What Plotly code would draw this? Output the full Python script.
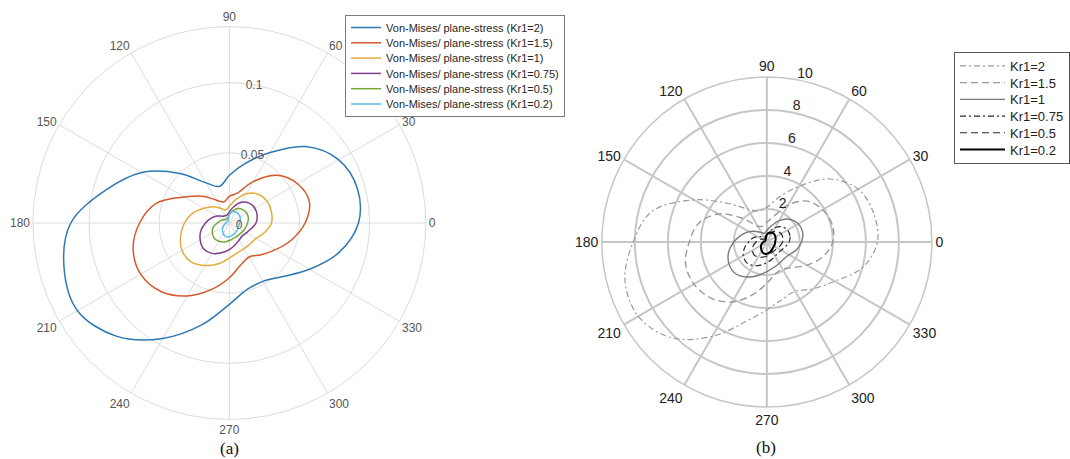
import plotly.graph_objects as go

# ---------------- data ----------------
theta = [0, 15, 30, 45, 60, 75, 90, 105, 120, 135, 150, 165,
         180, 195, 210, 225, 240, 255, 270, 285, 300, 315, 330, 345]
angle_ticks = [0, 30, 60, 90, 120, 150, 180, 210, 240, 270, 300, 330]

# (a) Von-Mises / plane-stress
names_a = ["Von-Mises/ plane-stress (Kr1=2)", "Von-Mises/ plane-stress (Kr1=1.5)",
           "Von-Mises/ plane-stress (Kr1=1)", "Von-Mises/ plane-stress (Kr1=0.75)",
           "Von-Mises/ plane-stress (Kr1=0.5)", "Von-Mises/ plane-stress (Kr1=0.2)"]
a_kr2 = [0.092, 0.0945, 0.090, 0.077, 0.058, 0.044, 0.034, 0.027, 0.033, 0.050, 0.072, 0.091,
         0.113, 0.122, 0.125, 0.114, 0.095, 0.075, 0.058, 0.049, 0.048, 0.054, 0.066, 0.081]
a_kr15 = [0.054, 0.059, 0.056, 0.048, 0.034, 0.022, 0.019, 0.0155, 0.019, 0.027, 0.037, 0.054,
          0.064, 0.071, 0.073, 0.069, 0.060, 0.049, 0.039, 0.031, 0.028, 0.032, 0.038, 0.046]
a_kr1 = [0.030, 0.031, 0.031, 0.029, 0.024, 0.017, 0.012, 0.0095, 0.012, 0.0165, 0.021, 0.027,
         0.032, 0.036, 0.039, 0.039, 0.035, 0.030, 0.025, 0.022, 0.021, 0.021, 0.022, 0.026]
a_kr075 = [0.019, 0.0205, 0.021, 0.020, 0.017, 0.012, 0.008, 0.006, 0.006, 0.0068, 0.010, 0.0135,
           0.017, 0.021, 0.024, 0.026, 0.025, 0.022, 0.019, 0.016, 0.014, 0.013, 0.014, 0.016]
a_kr05 = [0.013, 0.014, 0.0142, 0.0135, 0.012, 0.009, 0.006, 0.004, 0.0035, 0.0038, 0.0045, 0.0065,
          0.0085, 0.012, 0.014, 0.0153, 0.015, 0.014, 0.0125, 0.0113, 0.011, 0.0108, 0.0113, 0.012]
a_kr02 = [0.0072, 0.008, 0.0088, 0.0091, 0.009, 0.0084, 0.006, 0.003, 0.002, 0.0018, 0.0018, 0.002,
          0.0025, 0.0035, 0.0052, 0.0069, 0.0088, 0.010, 0.0098, 0.009, 0.0082, 0.0075, 0.0071, 0.007]
series_a = [a_kr2, a_kr15, a_kr1, a_kr075, a_kr05, a_kr02]
colors_a = ["#2e78b4", "#d45a2a", "#e3ad3a", "#7e3f8e", "#76a83a", "#5bbde8"]

# (b)
names_b = ["Kr1=2", "Kr1=1.5", "Kr1=1", "Kr1=0.75", "Kr1=0.5", "Kr1=0.2"]
b_kr2 = [6.7, 6.7, 6.4, 5.4, 3.9, 2.8, 2.1, 1.95, 2.3, 3.3, 5.1, 7.2,
         8.1, 8.9, 9.0, 8.2, 6.6, 5.0, 4.1, 3.6, 3.45, 4.0, 4.75, 6.0]
b_kr15 = [4.0, 4.1, 3.9, 3.5, 2.6, 1.6, 1.2, 1.0, 1.1, 2.0, 3.4, 4.3,
          4.7, 5.1, 5.1, 4.8, 4.2, 3.3, 2.5, 2.0, 1.9, 2.2, 2.8, 3.5]
b_kr1 = [2.1, 2.25, 2.2, 1.95, 1.5, 1.0, 0.7, 0.55, 0.65, 0.9, 1.25, 1.6,
         2.0, 2.4, 2.65, 2.7, 2.45, 2.1, 1.8, 1.6, 1.5, 1.45, 1.55, 1.85]
b_kr075 = [1.35, 1.45, 1.45, 1.3, 1.0, 0.65, 0.45, 0.35, 0.35, 0.45, 0.65, 0.9,
           1.1, 1.4, 1.65, 1.75, 1.65, 1.45, 1.25, 1.1, 1.0, 0.95, 1.0, 1.15]
b_kr05 = [0.95, 1.0, 1.0, 0.9, 0.7, 0.45, 0.3, 0.2, 0.2, 0.25, 0.35, 0.5,
          0.65, 0.85, 1.0, 1.1, 1.05, 0.95, 0.85, 0.75, 0.7, 0.7, 0.75, 0.85]
b_kr02 = [0.5, 0.55, 0.6, 0.65, 0.65, 0.6, 0.45, 0.25, 0.15, 0.12, 0.12, 0.15,
          0.2, 0.3, 0.4, 0.5, 0.62, 0.72, 0.72, 0.65, 0.58, 0.52, 0.5, 0.5]
series_b = [b_kr2, b_kr15, b_kr1, b_kr075, b_kr05, b_kr02]
colors_b = ["#9a9a9a", "#9a9a9a", "#7a7a7a", "#2a2a2a", "#2a2a2a", "#000000"]
dashes_b = ["6px,3px,2px,3px", "7px,4px", "solid", "6px,3px,2px,3px", "7px,4px", "solid"]
widths_b = [1.2, 1.4, 1.4, 1.2, 1.2, 2.0]
rticks_b = [2, 4, 6, 8, 10]

fig = go.Figure()

for name, r, c in zip(names_a, series_a, colors_a):
    fig.add_trace(go.Scatterpolar(
        r=r + [r[0]], theta=theta + [theta[0]], mode="lines", name=name,
        line=dict(color=c, width=1.5, shape="spline"),
        subplot="polar", legend="legend"))

for name, r, c, d, w in zip(names_b, series_b, colors_b, dashes_b, widths_b):
    fig.add_trace(go.Scatterpolar(
        r=r + [r[0]], theta=theta + [theta[0]], mode="lines", name=name,
        line=dict(color=c, width=w, dash=d, shape="spline"),
        subplot="polar2", legend="legend2"))

W, H = 1070, 459
cxa, cya, ra = 230, 223, 197
cxb, cyb, rb = 769, 242, 165.5

def dom(cx, cy, r):
    return dict(x=[(cx - r) / W, (cx + r) / W],
                y=[(H - cy - r) / H, (H - cy + r) / H])

fig.update_layout(
    width=W, height=H,
    margin=dict(l=0, r=0, t=0, b=0),
    paper_bgcolor="white",
    font=dict(family="Liberation Sans, Arial, sans-serif"),
    polar=dict(
        domain=dom(cxa, cya, ra),
        bgcolor="white",
        radialaxis=dict(range=[0, 0.14], tickvals=[0, 0.05, 0.1], ticktext=["0", "0.05", "0.1"],
                        angle=86, tickangle=86, showline=False, ticks="",
                        gridcolor="#dcdcdc", gridwidth=1,
                        tickfont=dict(size=12, color="#555555")),
        angularaxis=dict(tickvals=angle_ticks, ticktext=[str(t) for t in angle_ticks],
                         direction="counterclockwise", rotation=0, ticks="",
                         gridcolor="#dcdcdc", gridwidth=1, showline=True,
                         linecolor="#dcdcdc", linewidth=1,
                         tickfont=dict(size=12, color="#555555")),
    ),
    polar2=dict(
        domain=dom(cxb, cyb, rb),
        bgcolor="white",
        radialaxis=dict(range=[0, 10], tickvals=rticks_b,
                        ticktext=[f"{t}<br> " for t in rticks_b],
                        angle=82, tickangle=82, showline=False, ticks="",
                        gridcolor="#c6c6c6", gridwidth=1.5,
                        tickfont=dict(size=14, color="#222222")),
        angularaxis=dict(tickvals=angle_ticks, ticktext=[str(t) for t in angle_ticks],
                         direction="counterclockwise", rotation=0, ticks="",
                         gridcolor="#c6c6c6", gridwidth=1.5, showline=True,
                         linecolor="#c6c6c6", linewidth=1.5,
                         tickfont=dict(size=14, color="#222222")),
    ),
    legend=dict(x=346 / W, y=1 - 15 / H, xanchor="left", yanchor="top",
                bgcolor="white", bordercolor="#7a7a7a", borderwidth=1,
                font=dict(size=11, color="#262626"), tracegroupgap=0, itemwidth=30),
    legend2=dict(x=957 / W, y=1 - 52 / H, xanchor="left", yanchor="top",
                 bgcolor="white", bordercolor="#555555", borderwidth=1,
                 font=dict(size=13, color="#222222"), tracegroupgap=0, itemwidth=45),
    showlegend=True,
    annotations=[
        dict(text="(a)", x=230 / W, y=1 - 448 / H, xref="paper", yref="paper",
             xanchor="center", yanchor="middle", showarrow=False,
             font=dict(family="Liberation Serif, Times New Roman, serif", size=17, color="#111")),
        dict(text="(b)", x=768 / W, y=1 - 447 / H, xref="paper", yref="paper",
             xanchor="center", yanchor="middle", showarrow=False,
             font=dict(family="Liberation Serif, Times New Roman, serif", size=17, color="#111")),
    ],
)

# tighten legend row pitch to match the compact reference legends
post = """
document.body.style.margin='0px';
function tighten(sel, pitch, trim){
  try{
    var lg = document.querySelector(sel);
    if(!lg) return;
    var items = lg.querySelectorAll('g.traces');
    if(items.length < 2) return;
    var ys = [], xs = [];
    items.forEach(function(el){
      var m = /translate\\(([-\\d.e]+)[ ,]+([-\\d.e]+)\\)/.exec(el.getAttribute('transform')||'');
      xs.push(m ? parseFloat(m[1]) : 0); ys.push(m ? parseFloat(m[2]) : 0);
    });
    var old = ys[1] - ys[0];
    items.forEach(function(el, i){
      el.setAttribute('transform', 'translate(' + xs[i] + ',' + (ys[0] - trim/2 + i*pitch) + ')');
    });
    var bg = lg.querySelector('rect.bg');
    if(bg){
      var h = parseFloat(bg.getAttribute('height'));
      bg.setAttribute('height', h - (items.length-1)*(old - pitch) - trim);
    }
  }catch(e){}
}
tighten('g.legend', 15.3, 6);
tighten('g.legend2', 16.7, 4);
"""

fig.write_html("out.html", config={"displayModeBar": False}, post_script=post)
